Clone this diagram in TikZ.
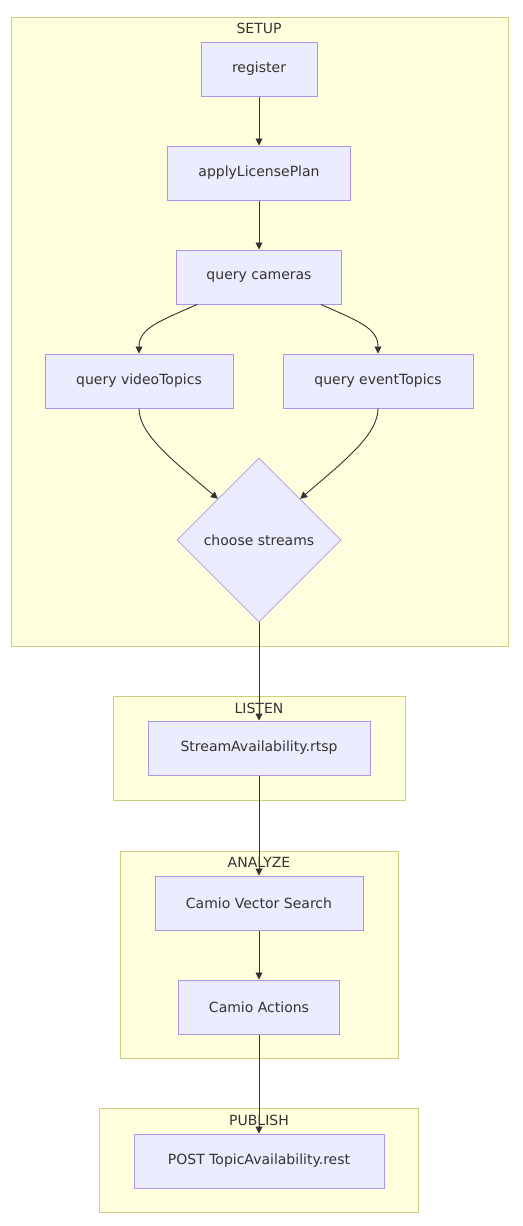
\documentclass[tikz,border=0pt]{standalone}
\usepackage{fontspec}
\setmainfont{DejaVu Sans}
\usetikzlibrary{shapes.geometric,arrows.meta,calc}

\definecolor{clfill}{HTML}{FFFFDE}
\definecolor{cldraw}{HTML}{CDCD80}
\definecolor{ndfill}{HTML}{ECECFF}
\definecolor{nddraw}{HTML}{AD94E6}
\definecolor{ink}{HTML}{333333}

\tikzset{
  cluster/.style={draw=cldraw,fill=clfill,line width=1pt},
  cltitle/.style={text=ink,font=\fontsize{14}{16}\selectfont,inner sep=0pt},
  box/.style={draw=nddraw,fill=ndfill,line width=1pt,text=ink,
    font=\fontsize{14}{16}\selectfont,minimum height=54pt,inner sep=0pt},
  decision/.style={diamond,draw=nddraw,fill=ndfill,line width=0.8pt,text=ink,
    font=\fontsize{14}{16}\selectfont,minimum width=164pt,minimum height=164pt,inner sep=0pt},
  flow/.style={draw=ink,line width=0.9pt,-{Triangle[length=7pt,width=7pt]}},
}

\begin{document}
\begin{tikzpicture}[x=1pt,y=-1pt]

%page
\useasboundingbox (0,0) rectangle (522,1226);
\def\mid{259}

%clusters
\draw[cluster] (11,17) rectangle (508,646);
\draw[cluster] (113,696) rectangle (405,800);
\draw[cluster] (120,851) rectangle (398,1058);
\draw[cluster] (99,1108) rectangle (418,1212);
\node[cltitle] (tsetup)   at (\mid,28)   {SETUP};
\node[cltitle] (tlisten)  at (\mid,708)  {LISTEN};
\node[cltitle] (tanalyze) at (\mid,862)  {ANALYZE};
\node[cltitle] (tpublish) at (\mid,1120) {PUBLISH};

%setup steps
\node[box,minimum width=116pt] (reg)  at (\mid,69)  {register};
\node[box,minimum width=183pt] (lic)  at (\mid,173) {applyLicensePlan};
\node[box,minimum width=165pt] (qcam) at (\mid,277) {query cameras};
\node[box,minimum width=188pt] (qvid) at (139,381)  {query videoTopics};
\node[box,minimum width=190pt] (qevt) at (378,381)  {query eventTopics};
\node[decision] (choose) at (\mid,540) {choose streams};

%listen, analyze, publish
\node[box,minimum width=222pt] (rtsp) at (\mid,748)  {StreamAvailability.rtsp};
\node[box,minimum width=208pt] (cvs)  at (\mid,903)  {Camio Vector Search};
\node[box,minimum width=161pt] (act)  at (\mid,1007) {Camio Actions};
\node[box,minimum width=250pt] (post) at (\mid,1161) {POST TopicAvailability.rest};

%straight arrows
\draw[flow] (reg) -- (lic);
\draw[flow] (lic) -- (qcam);
\draw[flow] (choose.south) -- (rtsp.north);
\draw[flow] (rtsp) -- (cvs);
\draw[flow] (cvs) -- (act);
\draw[flow] (act) -- (post);

%bent arrows
\draw[flow] ([xshift=21pt]qcam.south west) .. controls (160,321) and (139,328) .. (qvid.north);
\draw[flow] ([xshift=-21pt]qcam.south east) .. controls (358,321) and (378,328) .. (qevt.north);
\draw[flow] (qvid.south) .. controls (139,435) and (175,462) .. (choose.north west);
\draw[flow] (qevt.south) .. controls (378,435) and (343,462) .. (choose.north east);

\end{tikzpicture}
\end{document}
